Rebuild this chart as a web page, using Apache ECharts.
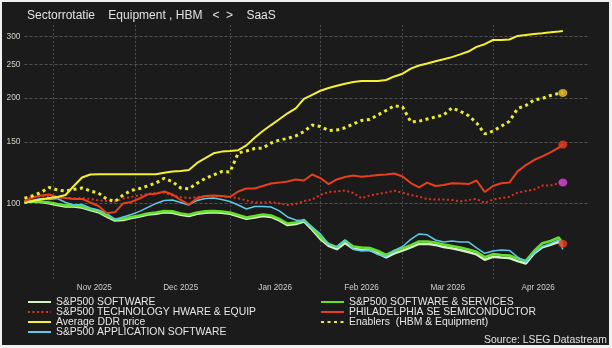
<!DOCTYPE html>
<html><head><meta charset="utf-8">
<script src="https://cdn.jsdelivr.net/npm/echarts@6/dist/echarts.min.js"></script>
<style>
html,body{margin:0;padding:0;background:#f0f0f0;}
#bg{position:absolute;left:2px;top:2px;width:607px;height:343px;background:#1b1b1b;}
#c{position:absolute;left:0;top:0;width:612px;height:348px;}
</style></head>
<body><div id="bg"></div><div id="c"></div>
<script>
// ---- data (values read at every 2nd weekday from 2025-10-23, plus last day 2026-04-24) ----
const startDate = '2025-10-23';
const endDate = '2026-05-04';
const monthKeys = ['2025-11','2025-12','2026-01','2026-02','2026-03','2026-04'];
const monthLabels = ['Nov 2025','Dec 2025','Jan 2026','Feb 2026','Mar 2026','Apr 2026'];
const yTicks = [100,150,200,250,300];

const spSoftware = [101.1,101.0,100.8,100.0,98.9,97.9,97.9,97.2,95.6,94.3,91.6,89.2,89.6,90.7,91.6,92.8,93.4,94.2,94.0,92.7,91.9,93.3,94.0,94.2,93.9,93.3,91.8,90.3,91.0,92.0,91.4,89.3,86.6,87.2,88.7,84.0,79.0,75.5,73.9,77.0,74.1,73.6,73.4,71.9,70.0,71.9,73.2,74.8,76.5,76.6,76.0,75.0,74.3,73.5,72.5,71.4,68.9,70.3,69.9,69.7,68.3,67.2,71.8,74.8,76.0,77.5,75.3];
const spSoftServ = [101.1,101.3,101.2,100.5,99.5,98.6,98.6,97.9,96.3,95.0,92.3,89.9,90.3,91.4,92.3,93.5,94.1,95.0,94.8,93.5,92.7,94.1,94.8,95.0,94.7,94.1,92.6,91.1,91.9,92.9,92.3,90.2,87.5,88.1,89.6,85.0,80.1,76.5,74.9,78.2,75.2,74.7,74.5,73.0,71.1,73.0,74.3,75.9,77.7,77.7,77.2,76.2,75.5,74.7,73.7,72.6,70.1,71.5,71.1,70.9,69.5,68.4,73.0,76.8,78.0,79.8,76.6];
const spAppSoft = [100,102,103.2,102.5,103.2,100.5,98.9,99.2,97.0,95.7,93.5,89.9,91.4,92.9,94.8,97.3,99.9,101.9,102.2,100.5,98.9,101.9,103.2,103.6,102.5,101.2,98.9,96.3,97.9,97.9,97.6,95.1,91.4,89.6,89.0,85.5,81.7,76.4,75.0,78.5,73.9,73.0,73.5,71.3,70.4,73.3,75.2,78.8,81.7,81.2,78.5,77.5,78.0,77.5,77.5,74.5,71.9,73.0,73.5,73.3,70.1,67.9,72.0,75.2,76.7,78.5,73.8];
const spTechHw = [103.4,104.2,104.7,104.2,103.9,103.5,103.4,103.5,102.9,101.9,101.5,101.2,103.2,104.2,105.4,106.3,107.0,107.3,105.3,104.2,103.5,104.2,104.9,104.7,104.5,104.4,103.4,101.9,100.5,100.5,100.9,99.9,98.9,99.5,101.5,102.5,105.6,107.7,108.1,108.8,107.0,103.4,105.3,106.3,107.3,108.6,107.3,105.6,104.5,102.9,102.5,102.5,102.2,101.2,102.2,102.9,100.2,102.5,103.5,104.4,107.3,108.4,109.5,112.4,112.4,114.1,114.7];
const phlxSemi = [101.1,103.9,105.3,106.0,104.2,103.5,102.9,102.9,100.5,98.2,93.8,94.2,99.9,100.9,103.2,106.1,106.5,108.1,106.0,102.2,99.2,103.4,104.9,105.3,104.9,104.2,108.1,110.2,110.2,112.1,113.9,114.6,115.4,117.0,116.2,120.9,118.1,113.5,117.0,118.9,120.1,119.2,119.8,120.5,120.9,121.7,119.3,114.3,111.0,114.6,112.1,112.8,114.1,113.9,113.5,116.2,107.7,112.1,114.1,114.6,123.4,128.7,133.0,136.2,139.8,144.4,147.3];
const ddrPrice = [100.2,101.5,102.5,103.5,104.2,105.6,112.1,118.5,120.9,121.1,121.1,121.1,121.1,121.1,121.1,121.1,121.1,122.3,123.4,123.8,124.5,130.5,134.6,139.0,140.6,141.2,141.9,146.5,154.0,161.0,167.5,174.0,181.0,187.0,199.0,204.5,210.0,213.8,217.0,220.0,222.5,224.0,224.0,224.0,225.5,230.8,235.0,243.0,248.0,251.3,255.0,258.5,262.2,267.0,272.0,280.5,285.5,293.5,293.6,294.5,301.5,303.5,305.5,307.0,308.7,310.5,311.5];
const enablers = [103.4,105.1,107.4,111.0,109.2,108.4,109.6,110.6,108.5,107.0,102.9,101.2,105.6,108.9,110.2,112.1,114.3,117.9,115.3,110.6,110.0,114.1,117.8,120.5,123.3,122.9,139.3,141.2,143.5,143.9,148.8,151.8,153.3,155.9,160.5,167.5,165.9,161.6,162.2,164.5,168.7,172.6,173.8,179.0,184.4,190.2,188.8,171.0,171.8,174.3,176.7,179.0,187.5,183.6,178.4,169.9,158.0,161.0,166.2,171.8,186.8,190.6,197.6,199.6,203.6,206.3,207.0];

// ---- categories: weekdays ----
function weekdays(a, b) {
  const out = [];
  const d = new Date(a + 'T00:00:00Z'), e = new Date(b + 'T00:00:00Z');
  while (d <= e) {
    const w = d.getUTCDay();
    if (w !== 0 && w !== 6) out.push(d.toISOString().slice(0, 10));
    d.setUTCDate(d.getUTCDate() + 1);
  }
  return out;
}
const categories = weekdays(startDate, endDate);
const sampleIdx = [];
for (let i = 0; i <= 130; i += 2) sampleIdx.push(i);
sampleIdx.push(131);

const splitIdx = new Set();
const labelAt = {};
monthKeys.forEach((k, m) => {
  const idx = [];
  categories.forEach((c, i) => { if (c.startsWith(k)) idx.push(i); });
  splitIdx.add(idx[0]);
  labelAt[idx[Math.floor(idx.length / 2)]] = monthLabels[m];
});

const pair = arr => arr.map((v, k) => [sampleIdx[k], v]);
const last = arr => [sampleIdx[sampleIdx.length - 1], arr[arr.length - 1]];

const FONT = 'Liberation Sans, Arial, sans-serif';
const gridMark = [];
yTicks.forEach(v => {
  gridMark.push({ yAxis: v, label: { position: 'start' } });
  gridMark.push({ yAxis: v, lineStyle: { opacity: 0 }, label: { position: 'end', distance: 5 } });
});

function lineSeries(name, arr, color, width, type, z) {
  return {
    name, type: 'line', data: pair(arr), symbol: 'none', z: z,
    lineStyle: { color, width, type: type || 'solid', cap: 'butt' },
    itemStyle: { color }, emphasis: { disabled: true }
  };
}

const s1 = lineSeries('S&P500 SOFTWARE', spSoftware, '#d6f3c8', 2.5, 'solid', 2);
s1.markLine = {
  silent: true, symbol: ['none', 'none'], z: 1, animation: false,
  lineStyle: { color: '#525252', type: [3, 2], width: 1 },
  label: { color: '#cbd4c3', fontSize: 8.4, fontFamily: FONT, distance: 4, formatter: p => p.value },
  data: gridMark
};

const legendCommon = {
  orient: 'vertical', top: 297, itemWidth: 23, itemHeight: 8, itemGap: 0, padding: 0,
  selectedMode: false, itemStyle: { opacity: 0 },
  textStyle: { color: '#e6e6e6', fontSize: 10.4, fontFamily: FONT, lineHeight: 9.7 }
};

const option = {
  animation: false,
  backgroundColor: 'transparent',
  title: [
    { text: 'Sectorrotatie    Equipment , HBM   <  >    SaaS', left: 27, top: 10, padding: 0,
      textStyle: { color: '#e2e2e2', fontSize: 12, fontWeight: 'normal', fontFamily: FONT } },
    { text: 'Source: LSEG Datastream', right: 5, top: 335, padding: 0,
      textStyle: { color: '#e2e2e2', fontSize: 10.4, fontWeight: 'normal', fontFamily: FONT } }
  ],
  grid: { left: 24.5, right: 24.5, top: 25, bottom: 68, outerBoundsMode: 'none' },
  legend: [
    Object.assign({ left: 27, data: ['S&P500 SOFTWARE', 'S&P500 TECHNOLOGY HWARE & EQUIP', 'Average DDR price', 'S&P500 APPLICATION SOFTWARE'] }, legendCommon),
    Object.assign({ left: 320, data: ['S&P500 SOFTWARE & SERVICES', 'PHILADELPHIA SE SEMICONDUCTOR', 'Enablers  (HBM & Equipment)'] }, legendCommon)
  ],
  xAxis: {
    type: 'category', data: categories, boundaryGap: false,
    axisLine: { show: false }, axisTick: { show: false },
    axisLabel: { interval: i => labelAt[i] !== undefined, formatter: (v, i) => labelAt[i] || '',
      color: '#d0d0d0', fontSize: 8.2, fontFamily: FONT, margin: 4 },
    splitLine: { show: true, interval: i => splitIdx.has(i), lineStyle: { color: '#4a4a4a', type: [2, 2], width: 1 } }
  },
  yAxis: {
    type: 'log', logBase: 10, min: 60.3, max: 324,
    axisLine: { show: false }, axisTick: { show: false }, axisLabel: { show: false }, splitLine: { show: false }
  },
  series: [
    s1,
    lineSeries('S&P500 SOFTWARE & SERVICES', spSoftServ, '#62e02a', 2.6, 'solid', 3),
    lineSeries('S&P500 APPLICATION SOFTWARE', spAppSoft, '#5cc9e6', 1.5, 'solid', 4),
    lineSeries('S&P500 TECHNOLOGY HWARE & EQUIP', spTechHw, '#e2321c', 2, [2, 2.5], 5),
    lineSeries('PHILADELPHIA SE SEMICONDUCTOR', phlxSemi, '#e8401c', 2, 'solid', 6),
    lineSeries('Average DDR price', ddrPrice, '#f6f034', 2, 'solid', 7),
    lineSeries('Enablers  (HBM & Equipment)', enablers, '#ecec2e', 3, [3, 3.5], 8),
    {
      type: 'scatter', z: 10, symbol: 'circle', symbolSize: [9, 8], silent: true,
      data: [
        { value: last(enablers), itemStyle: { color: '#f6c12a' } },
        { value: last(phlxSemi), itemStyle: { color: '#ea3d1e' } },
        { value: last(spTechHw), itemStyle: { color: '#dd44e0' } },
        { value: last(spSoftServ), itemStyle: { color: '#e23b22' } }
      ]
    }
  ]
};
echarts.init(document.getElementById('c'), null, { renderer: 'canvas' }).setOption(option);
</script></body></html>
